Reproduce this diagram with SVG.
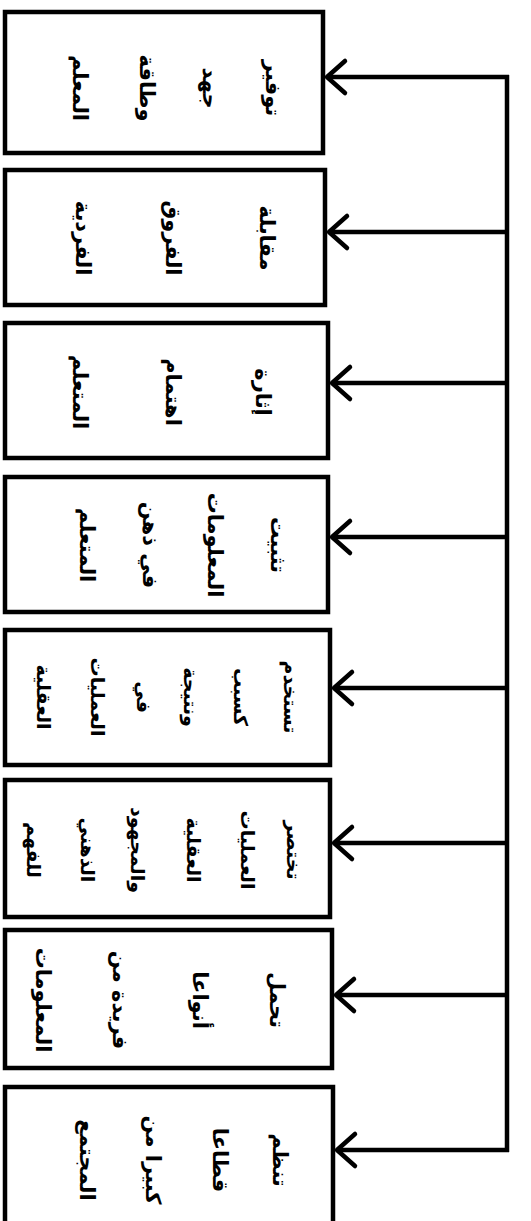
<svg xmlns="http://www.w3.org/2000/svg" width="531" height="1221" viewBox="0 0 531 1221">
<style>
.box{fill:#fff;stroke:#000;stroke-width:4.5}
.t{font-family:"DejaVu Sans",sans-serif;font-weight:bold;font-size:21px;fill:#000;text-anchor:middle}
.s{font-size:19px}
.c{fill:none;stroke:#000;stroke-width:4.5}
</style>
<defs>
<marker id="ah" markerUnits="userSpaceOnUse" viewBox="-22 -20 26 40" refX="0" refY="0" markerWidth="26" markerHeight="40" orient="auto">
<path d="M-18,-16 L0,0 L-18,16" fill="none" stroke="#000" stroke-width="4.5" stroke-linecap="round" stroke-linejoin="round"/>
</marker>
</defs>
<rect width="531" height="1221" fill="#fff"/>
<g id="n1">
<rect class="box" x="5" y="12" width="318" height="141"/>
<text class="t" transform="translate(266,88) rotate(90)">توفير</text>
<text class="t" transform="translate(203,88) rotate(90)">جهد</text>
<text class="t" transform="translate(140,88) rotate(90)">وطاقة</text>
<text class="t" transform="translate(73,88) rotate(90)">المعلم</text>
</g>
<g id="n2">
<rect class="box" x="5" y="170" width="320" height="135"/>
<text class="t" transform="translate(260,238) rotate(90)">مقابلة</text>
<text class="t" transform="translate(166,238) rotate(90)">الفروق</text>
<text class="t" transform="translate(76,238) rotate(90)">الفردية</text>
</g>
<g id="n3">
<rect class="box" x="5" y="323" width="323" height="135"/>
<text class="t" transform="translate(256,392) rotate(90)">إثارة</text>
<text class="t" transform="translate(166,392) rotate(90)">اهتمام</text>
<text class="t" transform="translate(73,392) rotate(90)">المتعلم</text>
</g>
<g id="n4">
<rect class="box" x="5" y="477" width="323" height="135"/>
<text class="t" transform="translate(271,545) rotate(90)">تثبيت</text>
<text class="t" transform="translate(208,545) rotate(90)">المعلومات</text>
<text class="t" transform="translate(143,545) rotate(90)">في ذهن</text>
<text class="t" transform="translate(80,545) rotate(90)">المتعلم</text>
</g>
<g id="n5">
<rect class="box" x="5" y="630" width="325" height="135"/>
<text class="t s" transform="translate(284,697) rotate(90)">تستخدم</text>
<text class="t s" transform="translate(234,697) rotate(90)">كسبب</text>
<text class="t s" transform="translate(184,697) rotate(90)">ونتيجة</text>
<text class="t s" transform="translate(137,697) rotate(90)">في</text>
<text class="t s" transform="translate(91,697) rotate(90)">العمليات</text>
<text class="t s" transform="translate(37,697) rotate(90)">العقلية</text>
</g>
<g id="n6">
<rect class="box" x="5" y="780" width="325" height="137"/>
<text class="t s" transform="translate(287,850) rotate(90)">تختصر</text>
<text class="t s" transform="translate(241,850) rotate(90)">العمليات</text>
<text class="t s" transform="translate(187,850) rotate(90)">العقلية</text>
<text class="t s" transform="translate(131,850) rotate(90)">والمجهود</text>
<text class="t s" transform="translate(81,850) rotate(90)">الذهني</text>
<text class="t s" transform="translate(27,850) rotate(90)">للفهم</text>
</g>
<g id="n7">
<rect class="box" x="5" y="930" width="327" height="138"/>
<text class="t" transform="translate(270,1000) rotate(90)">تحمل</text>
<text class="t" transform="translate(193,1000) rotate(90)">أنواعا</text>
<text class="t" transform="translate(113,1000) rotate(90)">فريدة من</text>
<text class="t" transform="translate(36,1000) rotate(90)">المعلومات</text>
</g>
<g id="n8">
<rect class="box" x="5" y="1087" width="328" height="150"/>
<text class="t" transform="translate(273,1160) rotate(90)">تنظم</text>
<text class="t" transform="translate(213,1160) rotate(90)">قطاعا</text>
<text class="t" transform="translate(146,1160) rotate(90)">كبيرا من</text>
<text class="t" transform="translate(80,1160) rotate(90)">المجتمع</text>
</g>
<g id="connectors">
<path class="c" d="M507,75 V1152"/>
<path class="c" d="M509,77 H327" marker-end="url(#ah)"/>
<path class="c" d="M507,232 H329" marker-end="url(#ah)"/>
<path class="c" d="M507,383 H332" marker-end="url(#ah)"/>
<path class="c" d="M507,537 H332" marker-end="url(#ah)"/>
<path class="c" d="M507,688 H334" marker-end="url(#ah)"/>
<path class="c" d="M507,843 H334" marker-end="url(#ah)"/>
<path class="c" d="M507,995 H336" marker-end="url(#ah)"/>
<path class="c" d="M509,1150 H337" marker-end="url(#ah)"/>
</g>
</svg>
